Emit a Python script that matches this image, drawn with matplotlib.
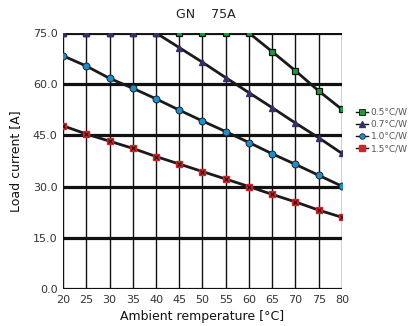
import matplotlib
matplotlib.use('Agg')
import matplotlib.pyplot as plt
from matplotlib.lines import Line2D

temps = [20, 25, 30, 35, 40, 45, 50, 55, 60, 65, 70, 75, 80]
r05 = [75, 75, 75, 75, 75, 75, 75, 75, 75, 69.5, 63.9, 58.0, 52.6]
r07 = [75, 75, 75, 75, 75, 70.7, 66.4, 61.9, 57.5, 53.1, 48.6, 44.3, 39.7]
r10 = [68.3, 65.3, 61.7, 58.8, 55.7, 52.4, 49.2, 46.1, 42.9, 39.6, 36.5, 33.3, 30.1]
r15 = [47.8, 45.4, 43.3, 41.2, 38.8, 36.6, 34.4, 32.2, 30.0, 27.7, 25.5, 23.1, 21.0]
labels = ['0.5°C/W', '0.7°C/W', '1.0°C/W', '1.5°C/W']
yticks = [0, 15, 30, 45, 60, 75]

narrow = ['Liberation Sans Narrow', 'DejaVu Sans']

fig = plt.figure(figsize=(4.12, 3.26), dpi=100)
ax = fig.add_axes([0.153, 0.1135, 0.677, 0.7855])

# grid: thick horizontal, thin vertical
for y in yticks:
    ax.axhline(y, color='#111111', lw=2.3, zorder=1)
for x in temps:
    ax.axvline(x, color='#111111', lw=1.0, zorder=1)

ax.plot(temps, r15, color='#1a1a1a', lw=2.0, zorder=2)
ax.plot(temps, r15, ls='none', marker='s', ms=5, mfc='#d6232a', mec='#d6232a', zorder=3)
ax.plot(temps, r15, ls='none', marker='x', ms=3.5, mec='#111111', mew=0.8, zorder=4)

ax.plot(temps, r10, color='#1a1a1a', lw=2.0, marker='o', ms=5, mfc='#1b8fd2',
        mec='#222222', mew=0.7, zorder=3)
ax.plot(temps, r07, color='#1a1a1a', lw=2.0, marker='^', ms=5, mfc='#34306e',
        mec='#34306e', zorder=3)
ax.plot(temps, r05, color='#1a1a1a', lw=2.0, marker='s', ms=5, mfc='#1c9b3c',
        mec='#111111', mew=0.9, zorder=3)
# triangles sitting on the 75 line drawn over the green squares
ax.plot(temps[:5], r07[:5], ls='none', marker='^', ms=5, mfc='#34306e',
        mec='#34306e', zorder=5)

ax.set_xlim(20, 80)
ax.set_ylim(0, 75)
ax.set_xticks(temps)
ax.set_yticks(yticks)
ax.set_xticklabels([str(t) for t in temps], family=narrow, fontsize=8, color='#333333')
ax.set_yticklabels([f'{y:.1f}' for y in yticks], family=narrow, fontsize=8, color='#333333')
ax.tick_params(length=0, pad=4)
for s in ax.spines.values():
    s.set_visible(False)

ax.set_xlabel('Ambient remperature [°C]', fontsize=9, color='#111111', labelpad=4)
ax.set_ylabel('Load current [A]', fontsize=9, color='#111111', labelpad=8)
fig.text(0.5, 0.955, 'GN    75A', ha='center', va='center', fontsize=9, color='#222222')

handles = [
    Line2D([], [], color='#111111', lw=1, marker='s', ms=4, mfc='#1c9b3c', mec='#111111', mew=0.6),
    Line2D([], [], color='#111111', lw=1, marker='^', ms=4, mfc='#34306e', mec='#34306e'),
    Line2D([], [], color='#111111', lw=1, marker='o', ms=4, mfc='#1b8fd2', mec='#222222', mew=0.6),
    Line2D([], [], color='#111111', lw=1, marker='s', ms=4, mfc='#d6232a', mec='#d6232a'),
]
leg = fig.legend(handles, labels, loc='center left', bbox_to_anchor=(0.845, 0.6),
                 frameon=False, fontsize=6.5, handlelength=1.3, handletextpad=0.3,
                 labelspacing=0.35, labelcolor='#555555')

fig.savefig('out.png', dpi=100)
